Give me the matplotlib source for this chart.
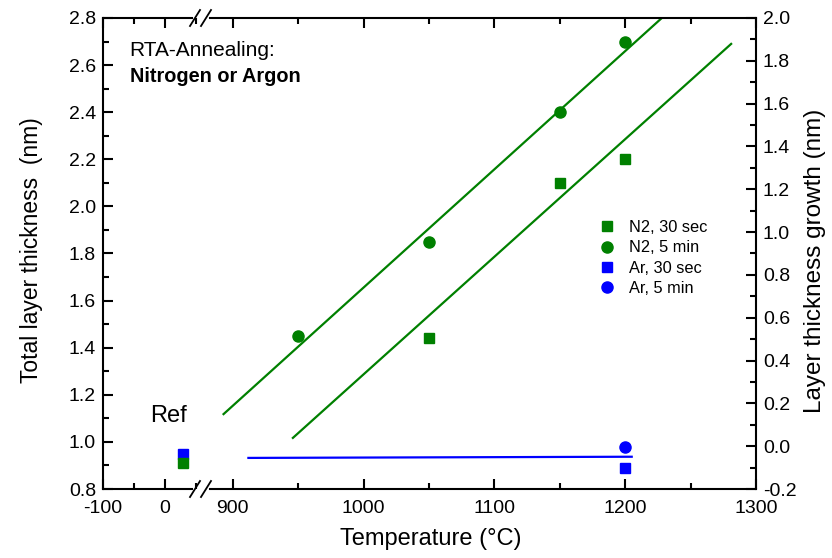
import numpy as np
import matplotlib
matplotlib.use("Agg")
import matplotlib.pyplot as plt
from matplotlib.lines import Line2D
from matplotlib.ticker import MultipleLocator, FormatStrFormatter

plt.rcParams["font.family"] = ["Liberation Sans", "DejaVu Sans"]
plt.rcParams["axes.unicode_minus"] = False

GREEN = "#008000"
BLUE = "#0000ff"

# data (temperature in degC, thickness in nm)
ref_temp = 28
ref_n2 = 0.91
ref_ar = 0.95

n2_30s_temp = [1050, 1150, 1200]
n2_30s_thick = [1.44, 2.10, 2.20]
n2_5m_temp = [950, 1050, 1150, 1200]
n2_5m_thick = [1.45, 1.85, 2.40, 2.70]
ar_30s_temp = [1200]
ar_30s_thick = [0.89]
ar_5m_temp = [1200]
ar_5m_thick = [0.98]

# fitted guide lines (end points)
fit_5m_x = [893, 1228]
fit_5m_y = [1.118, 2.80]
fit_30s_x = [946, 1281]
fit_30s_y = [1.017, 2.69]
fit_ar_x = [912, 1205]
fit_ar_y = [0.932, 0.937]

W, H = 832, 558
fig = plt.figure(figsize=(W / 100, H / 100), dpi=100)

x0, xb, x1 = 103, 200, 756
ytop, ybot = 18, 489
b = 1 - ybot / H
h = (ybot - ytop) / H
axl = fig.add_axes([x0 / W, b, (xb - x0) / W, h])
axr = fig.add_axes([xb / W, b, (x1 - xb) / W, h], sharey=axl)
axg = axr.twinx()

LW = 1.5
for ax in (axl, axr, axg):
    for s in ax.spines.values():
        s.set_linewidth(LW)
    ax.tick_params(which="both", direction="in", width=LW, labelsize=14, pad=5)
    ax.tick_params(axis="x", pad=8)
    ax.tick_params(which="major", length=7)
    ax.tick_params(which="minor", length=4)

# left (room temperature) segment
axl.set_xlim(-100, 56)
axl.set_ylim(0.8, 2.8)
axl.spines["right"].set_visible(False)
axl.spines["bottom"].set_bounds(-100, 43)
axl.spines["top"].set_bounds(-100, 43)
axl.xaxis.set_major_locator(MultipleLocator(100))
axl.xaxis.set_minor_locator(MultipleLocator(50))
axl.yaxis.set_major_locator(MultipleLocator(0.2))
axl.yaxis.set_minor_locator(MultipleLocator(0.1))
axl.yaxis.set_major_formatter(FormatStrFormatter("%.1f"))
axl.tick_params(which="both", top=True, right=False)
axl.plot([ref_temp], [ref_ar], "s", color=BLUE, ms=7, zorder=3)
axl.plot([ref_temp], [ref_n2], "s", color=GREEN, ms=7, zorder=4)

# high temperature segment
axr.set_xlim(875, 1300)
axr.spines["left"].set_visible(False)
axr.spines["right"].set_visible(False)
axr.spines["bottom"].set_bounds(883, 1300)
axr.spines["top"].set_bounds(883, 1300)
axr.xaxis.set_major_locator(MultipleLocator(100))
axr.xaxis.set_minor_locator(MultipleLocator(50))
axr.tick_params(which="both", top=True, left=False, labelleft=False)

axr.plot(fit_5m_x, fit_5m_y, color=GREEN, lw=1.6)
axr.plot(fit_30s_x, fit_30s_y, color=GREEN, lw=1.6)
axr.plot(fit_ar_x, fit_ar_y, color=BLUE, lw=1.6)
axr.plot(n2_30s_temp, n2_30s_thick, "s", color=GREEN, ms=7, label="N2, 30 sec")
axr.plot(n2_5m_temp, n2_5m_thick, "o", color=GREEN, ms=8, label="N2, 5 min")
axr.plot(ar_30s_temp, ar_30s_thick, "s", color=BLUE, ms=7, label="Ar, 30 sec")
axr.plot(ar_5m_temp, ar_5m_thick, "o", color=BLUE, ms=8, label="Ar, 5 min")

# right growth axis
axg.set_ylim(-0.2, 2.0)
axg.yaxis.set_major_locator(MultipleLocator(0.2))
axg.yaxis.set_minor_locator(MultipleLocator(0.1))
axg.yaxis.set_major_formatter(FormatStrFormatter("%.1f"))
axg.spines["left"].set_visible(False)
axg.spines["top"].set_visible(False)
axg.spines["bottom"].set_visible(False)
axg.tick_params(which="both", left=False, right=True, bottom=False, top=False)

leg = axr.legend(loc="upper left", bbox_to_anchor=(599 / W, 1 - 220 / H),
                 bbox_transform=fig.transFigure, frameon=False, fontsize=11.8,
                 handlelength=1.0, handletextpad=0.85, labelspacing=0.33,
                 borderpad=0, borderaxespad=0)

# axis break marks
for yy in (ytop, ybot):
    for xx in (195, 206):
        fig.add_artist(Line2D([(xx - 5) / W, (xx + 5) / W],
                              [1 - (yy + 8) / H, 1 - (yy - 8) / H],
                              color="black", lw=1.3, transform=fig.transFigure))

fig.text(129 / W, 1 - 51 / H, "RTA-Annealing:", fontsize=15, va="center")
fig.text(130 / W, 1 - 77 / H, "Nitrogen or Argon", fontsize=14.3, va="center",
         fontweight="bold")
fig.text(169 / W, 1 - 416 / H, "Ref", fontsize=17, ha="center", va="center")

fig.text(32 / W, 1 - 250 / H, "Total layer thickness  (nm)", fontsize=16.5,
         rotation=90, ha="center", va="center")
fig.text(815 / W, 1 - 261 / H, "Layer thickness growth (nm)", fontsize=17.5,
         rotation=90, ha="center", va="center")
fig.text(431 / W, 1 - 539 / H, "Temperature (\u00b0C)", fontsize=17,
         ha="center", va="center")

fig.savefig("out.png", dpi=100)
